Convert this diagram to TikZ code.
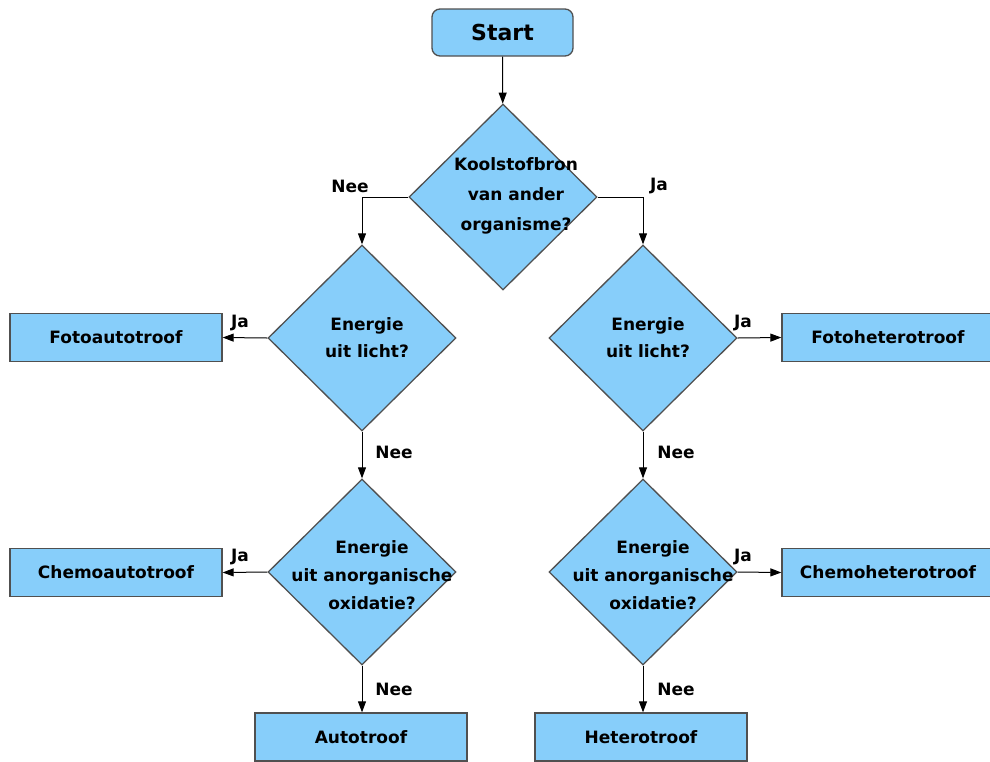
\documentclass[tikz,border=0pt]{standalone}
\usepackage{fontspec}
\setmainfont{DejaVu Sans}
\usetikzlibrary{shapes.geometric,arrows.meta}
\definecolor{boxfill}{RGB}{135,206,250}
\definecolor{boxline}{RGB}{80,80,80}
\begin{document}
\begin{tikzpicture}[x=1pt,y=-1pt,
  every node/.style={font=\bfseries\fontsize{17}{17}\selectfont},
  startbox/.style={draw=boxline,fill=boxfill,line width=1.3pt,rounded corners=8pt,minimum width=141pt,minimum height=47pt,inner sep=0pt,font=\bfseries\fontsize{22}{22}\selectfont},
  endbox/.style={draw=boxline,fill=boxfill,line width=1.3pt,minimum width=212pt,minimum height=48pt,inner sep=0pt},
  decision/.style={draw=boxline,fill=boxfill,line width=1.3pt,shape=diamond,minimum width=188pt,minimum height=186pt,inner sep=0pt},
  qtext/.style={align=center,inner sep=0pt},
  lbl/.style={inner sep=0pt},
  conn/.style={draw=black,line width=1pt,-{Triangle[length=11pt,width=8pt]}}
]
\useasboundingbox (0,0) rectangle (990,761);
% nodes
\node[startbox] (start) at (502.5,32.5) {Start};
\node[decision] (d1) at (503,197) {};
\node[qtext,font=\bfseries\fontsize{17}{30}\selectfont] (t1) at (516,196) {Koolstofbron\\van ander\\organisme?};

\node[decision] (d2l) at (362,338) {};
\node[qtext,font=\bfseries\fontsize{17}{27}\selectfont] (t2l) at (367,338) {Energie\\uit licht?};
\node[decision] (d3l) at (362,572) {};
\node[qtext,font=\bfseries\fontsize{17}{28}\selectfont] (t3l) at (372,575) {Energie\\uit anorganische\\oxidatie?};

\node[decision] (d2r) at (643,338) {};
\node[qtext,font=\bfseries\fontsize{17}{27}\selectfont] (t2r) at (648,338) {Energie\\uit licht?};
\node[decision] (d3r) at (643,572) {};
\node[qtext,font=\bfseries\fontsize{17}{28}\selectfont] (t3r) at (653,575) {Energie\\uit anorganische\\oxidatie?};

\node[endbox] (foa) at (116,337.5) {Fotoautotroof};
\node[endbox] (cha) at (116,572.5) {Chemoautotroof};
\node[endbox] (aut) at (361,737) {Autotroof};
\node[endbox] (foh) at (888,337.5) {Fotoheterotroof};
\node[endbox] (chh) at (888,572.5) {Chemoheterotroof};
\node[endbox] (het) at (641,737) {Heterotroof};

% connectors
\draw[conn] (start) -- (d1);
\draw[conn] (d1.west) -| (d2l.north);
\draw[conn] (d1.east) -| (d2r.north);
\draw[conn] (d2l.west) -- (foa.east);
\draw[conn] (d2l.south) -- (d3l.north);
\draw[conn] (d3l.west) -- (cha.east);
\draw[conn] (d3l.south) -- (d3l.south |- aut.north);
\draw[conn] (d2r.east) -- (foh.west);
\draw[conn] (d2r.south) -- (d3r.north);
\draw[conn] (d3r.east) -- (chh.west);
\draw[conn] (d3r.south) -- (d3r.south |- het.north);

% labels
\node[lbl] (l1) at (350,186) {Nee};
\node[lbl] (l2) at (659,186) {Ja};
\node[lbl] (l3) at (240,323) {Ja};
\node[lbl] (l4) at (394,452) {Nee};
\node[lbl] (l5) at (240,557) {Ja};
\node[lbl] (l6) at (394,689) {Nee};
\node[lbl] (l7) at (743,323) {Ja};
\node[lbl] (l8) at (676,452) {Nee};
\node[lbl] (l9) at (743,557) {Ja};
\node[lbl] (l10) at (676,689) {Nee};
\end{tikzpicture}
\end{document}
